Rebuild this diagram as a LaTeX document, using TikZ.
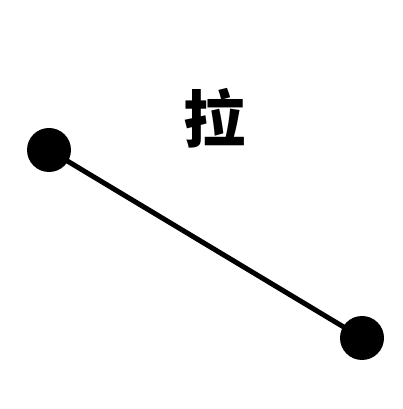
\documentclass[tikz,border=0pt]{standalone}
\usepackage{fontspec}
\newfontfamily\cjk{Noto Sans CJK SC}
\begin{document}
\begin{tikzpicture}[x=1pt,y=1pt,
  ball/.style={circle,fill=black,inner sep=0pt,minimum size=44pt},
  rod/.style={line width=5pt,black},
  lbl/.style={font=\cjk\bfseries\fontsize{62}{62}\selectfont,inner sep=0pt}]
\useasboundingbox[fill=white] (0,0) rectangle (402,409);
\node[ball] (a) at (49,259) {};
\node[ball] (b) at (362,71) {};
\draw[rod] (a.center) -- (b.center);
\node[lbl] (t) at (214,291) {拉};
\end{tikzpicture}
\end{document}
